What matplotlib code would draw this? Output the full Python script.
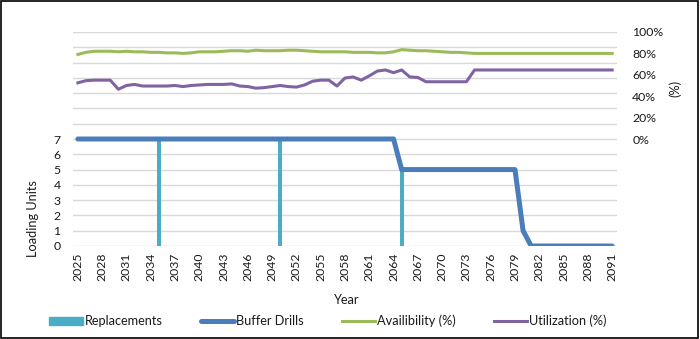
import matplotlib.pyplot as plt
import numpy as np
from matplotlib.patches import Patch, Rectangle
from matplotlib.lines import Line2D

plt.rcParams['font.family'] = ['Lato', 'DejaVu Sans']

years = np.arange(2025, 2092)

# replacements per year (only three replacement events)
replacements = np.zeros(len(years))
replacements[years == 2035] = 7
replacements[years == 2050] = 7
replacements[years == 2065] = 5

buffer_drills = [7] * 40 + [5] * 15 + [1] + [0] * 11

availability = [79, 81, 82, 82, 82, 81.5, 82, 81.5, 81.5, 81,
                81, 80.5, 80.5, 80, 80.5, 81.5, 81.5, 81.5, 82, 82.5,
                82.5, 82, 83, 82.5, 82.5, 82.5, 83, 83, 82.5, 82,
                81.5, 81.5, 81.5, 81.5, 81, 81, 81, 80.5, 80.5, 81.5,
                83.5, 83, 82.5, 82.5, 82, 81.5, 81, 81, 80.5] + [80] * 18

utilization = [52.5, 54.5, 55, 55, 55, 46.5, 50, 51, 49.5, 49.5,
               49.5, 49.5, 50, 49, 50, 50.5, 51, 51, 51, 51.5,
               49.5, 49, 47.5, 48, 49, 50, 49, 48.5, 50.5, 54,
               55, 55, 49.5, 57, 58, 55, 59, 63.5, 64.5, 62,
               64.5, 58, 57.5, 53.5] + [53.5] * 5 + [64.5] * 18

c_rep = '#4BACC6'
c_buf = '#4A7EBB'
c_av = '#9BBB59'
c_ut = '#8064A2'

fig = plt.figure(figsize=(7, 3.39), dpi=100)
ax = fig.add_axes([73 / 700, 1 - 246 / 339, (617 - 73) / 700, (246 - 32) / 339])

ax.bar(years, replacements, width=0.48, color=c_rep, zorder=3)
ax.plot(years, buffer_drills, color=c_buf, lw=3.6, solid_capstyle='round',
        solid_joinstyle='round', zorder=4)

ax.set_xlim(2024.4, 2091.6)
ax.set_ylim(0, 14)
ax.set_yticks(np.arange(0, 15))
ax.set_yticklabels([str(i) if i <= 7 else '' for i in range(15)])
ax.set_xticks(years[::3])
ax.set_xticklabels([str(y) for y in years[::3]], rotation=90)
ax.grid(axis='y', color='#D9D9D9', lw=1)
ax.set_axisbelow(True)
ax.tick_params(axis='both', length=0, labelsize=8.8, colors='#1a1a1a')
ax.tick_params(axis='y', pad=9)
ax.tick_params(axis='x', pad=5)
for s in ax.spines.values():
    s.set_visible(False)

ax2 = ax.twinx()
ax2.plot(years, np.array(availability) / 100, color=c_av, lw=2.2, zorder=3)
ax2.plot(years, np.array(utilization) / 100, color=c_ut, lw=2.2, zorder=3)
ax2.set_ylim(-1, 1)
ax2.set_yticks(np.arange(0, 1.01, 0.2))
ax2.set_yticklabels([f'{int(round(v * 100))}%' for v in np.arange(0, 1.01, 0.2)])
ax2.tick_params(axis='y', length=0, labelsize=8.8, colors='#1a1a1a', pad=11)
for s in ax2.spines.values():
    s.set_visible(False)

fig.text(33 / 700, 1 - 219 / 339, 'Loading Units', rotation=90, ha='center',
         va='center', fontsize=9.2, color='#1a1a1a')
fig.text(675 / 700, 1 - 88 / 339, '(%)', rotation=90, ha='center',
         va='center', fontsize=9.2, color='#1a1a1a')
fig.text(347 / 700, 1 - 300 / 339, 'Year', ha='center', va='center',
         fontsize=9.2, color='#1a1a1a')

handles = [Patch(color=c_rep),
           Line2D([], [], color=c_buf, lw=3.6, solid_capstyle='round'),
           Line2D([], [], color=c_av, lw=2.2),
           Line2D([], [], color=c_ut, lw=2.2)]
labels = ['Replacements', 'Buffer Drills', 'Availibility (%)', 'Utilization (%)']
fig.legend(handles, labels, loc='center', ncol=4, frameon=False,
           bbox_to_anchor=(328 / 700, 1 - 321 / 339), fontsize=9.2,
           handlelength=2.6, handleheight=0.6, handletextpad=0.15,
           columnspacing=3.0, labelcolor='#1a1a1a')

fig.add_artist(Rectangle((0.002, 0.003), 0.995, 0.993, transform=fig.transFigure,
                         fill=False, edgecolor='black', lw=1.2))

fig.savefig('out.png', dpi=100)
